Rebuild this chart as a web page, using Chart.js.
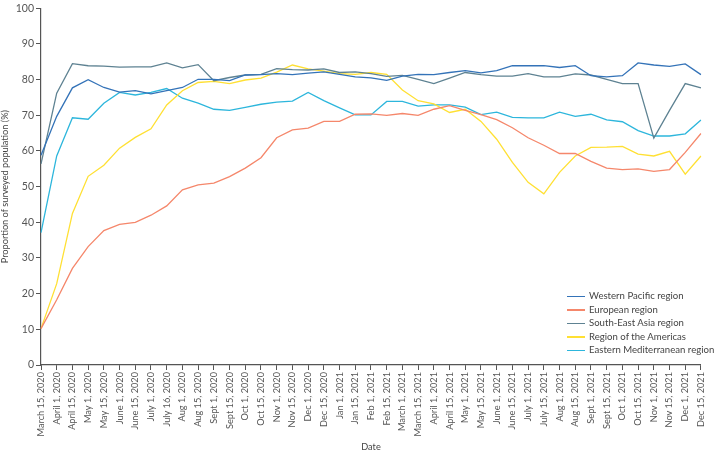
<!DOCTYPE html>
<html>
<head>
<meta charset="utf-8">
<script src="https://cdn.jsdelivr.net/npm/chart.js@4.4.1/dist/chart.umd.min.js"></script>
<style>
  html, body { margin: 0; padding: 0; background: #fff; }
  #wrap { position: relative; width: 714px; height: 453px; }
  #legend { position: absolute; left: 567px; top: 289px; font-family: Lato, sans-serif; font-size: 9.6px; color: #444; }
  #legend div { height: 13.5px; line-height: 13.5px; white-space: nowrap; }
  #legend i { display: inline-block; width: 18px; height: 1.5px; vertical-align: middle; margin-right: 4px; }
</style>
</head>
<body>
<div id="wrap">
  <canvas id="myChart" width="714" height="453"></canvas>
  <div id="legend"></div>
</div>
<script>
const dates = ["March 15, 2020", "April 1, 2020", "April 15, 2020", "May 1, 2020", "May 15, 2020",
  "June 1, 2020", "June 15, 2020", "July 1, 2020", "July 16, 2020", "Aug 1, 2020", "Aug 15, 2020",
  "Sept 1, 2020", "Sept 15, 2020", "Oct 1, 2020", "Oct 15, 2020", "Nov 1, 2020", "Nov 15, 2020",
  "Dec 1, 2020", "Dec 15, 2020", "Jan 1, 2021", "Jan 15, 2021", "Feb 1, 2021", "Feb 15, 2021",
  "March 1, 2021", "March 15, 2021", "April 1, 2021", "April 15, 2021", "May 1, 2021", "May 15, 2021",
  "June 1, 2021", "June 15, 2021", "July 1, 2021", "July 15, 2021", "Aug 1, 2021", "Aug 15, 2021",
  "Sept 1, 2021", "Sept 15, 2021", "Oct 1, 2021", "Oct 15, 2021", "Nov 1, 2021", "Nov 15, 2021",
  "Dec 1, 2021", "Dec 15, 2021"];

const westernPacific = [58.8, 69.7, 77.7, 80.0, 77.8, 76.5, 76.9, 76.0, 76.9, 77.8, 80.1,
  80.1, 79.7, 81.3, 81.4, 81.7, 81.4, 81.8, 82.2, 81.5, 80.8, 80.5, 79.8, 81.0, 81.5, 81.4,
  82.0, 82.5, 81.9, 82.5, 83.9, 83.9, 83.9, 83.4, 83.9, 81.1, 80.8, 81.1, 84.7, 84.1, 83.7,
  84.4, 81.4];
const european = [10.2, 18.3, 27.1, 33.2, 37.7, 39.4, 40.0, 42.0, 44.6, 49.1, 50.5,
  51.0, 52.8, 55.2, 58.1, 63.7, 65.9, 66.4, 68.3, 68.3, 70.3, 70.4, 70.0, 70.5, 70.0, 71.7,
  72.7, 71.4, 70.2, 68.8, 66.5, 63.7, 61.6, 59.3, 59.3, 57.1, 55.2, 54.8, 55.0, 54.3, 54.8,
  59.6, 64.9];
const southEastAsia = [56.4, 76.2, 84.5, 83.9, 83.8, 83.5, 83.6, 83.6, 84.7, 83.3, 84.2,
  79.7, 80.6, 81.3, 81.5, 83.1, 82.8, 82.7, 83.0, 82.0, 82.2, 81.7, 80.9, 81.2, 80.1, 78.9,
  80.4, 82.0, 81.4, 81.0, 81.0, 81.7, 80.8, 80.8, 81.6, 81.3, 80.1, 78.9, 78.9, 63.6, 71.4,
  78.9, 77.7];
const americas = [10.2, 22.8, 42.5, 52.9, 56.0, 60.8, 63.8, 66.2, 72.9, 76.9, 79.2,
  79.5, 78.9, 79.9, 80.4, 82.1, 84.1, 83.0, 82.4, 81.7, 81.5, 82.0, 81.5, 77.1, 74.1, 73.2,
  70.8, 71.7, 68.3, 63.3, 56.8, 51.2, 48.0, 54.0, 58.6, 61.0, 61.1, 61.3, 59.1, 58.6, 59.9,
  53.5, 58.6];
const easternMediterranean = [37.1, 58.6, 69.3, 68.9, 73.4, 76.4, 75.7, 76.4, 77.5, 74.8, 73.4,
  71.7, 71.4, 72.2, 73.1, 73.7, 74.0, 76.4, 74.1, 72.1, 70.1, 70.1, 73.9, 73.9, 72.6, 72.9,
  72.9, 72.3, 70.2, 70.9, 69.4, 69.3, 69.3, 70.9, 69.7, 70.3, 68.7, 68.2, 65.7, 64.2, 64.2,
  64.8, 68.7];

const regionNames = ["Western Pacific region", "European region", "South-East Asia region",
  "Region of the Americas", "Eastern Mediterranean region"];
const regionColors = ["#3473b8", "#f5876b", "#5e8292", "#ffe033", "#2db6dc"];
const regionValues = [westernPacific, european, southEastAsia, americas, easternMediterranean];

const axisColor = "#555";
const font = { family: "Lato, sans-serif", size: 10.5 };
const smallFont = { family: "Lato, sans-serif", size: 9.2 };

new Chart("myChart", {
  type: "line",
  data: {
    labels: dates,
    datasets: regionValues.map((vals, i) => ({
      label: regionNames[i],
      data: vals,
      borderColor: regionColors[i],
      backgroundColor: regionColors[i],
      borderWidth: 1.3,
      pointRadius: 0,
      tension: 0
    }))
  },
  options: {
    responsive: false,
    animation: false,
    layout: { padding: { top: 4, right: 5, left: 0, bottom: 0 } },
    plugins: {
      legend: { display: false },
      tooltip: { enabled: false }
    },
    scales: {
      x: {
        ticks: { autoSkip: false, minRotation: 90, maxRotation: 90, color: axisColor, font: smallFont, padding: 2 },
        grid: { drawOnChartArea: false, drawTicks: true, tickLength: 5, color: axisColor },
        border: { color: axisColor, width: 1.2 },
        title: { display: true, text: "Date", color: "#444", font: smallFont, padding: { top: 10, bottom: 0 } },
        afterFit: s => { s.height = 88; }
      },
      y: {
        min: 0,
        max: 100,
        ticks: { stepSize: 10, color: axisColor, font: font, padding: 2 },
        grid: { drawOnChartArea: false, drawTicks: true, tickLength: 5, color: axisColor },
        border: { color: axisColor, width: 1.2 },
        title: { display: true, text: "Proportion of surveyed population (%)", color: "#444", font: smallFont, padding: { top: 0, bottom: 0 } },
        afterFit: s => { s.width = 41; }
      }
    }
  }
});

const legend = document.getElementById("legend");
regionNames.forEach((name, i) => {
  const row = document.createElement("div");
  row.innerHTML = '<i style="background:' + regionColors[i] + '"></i>' + name;
  legend.appendChild(row);
});
</script>
</body>
</html>
